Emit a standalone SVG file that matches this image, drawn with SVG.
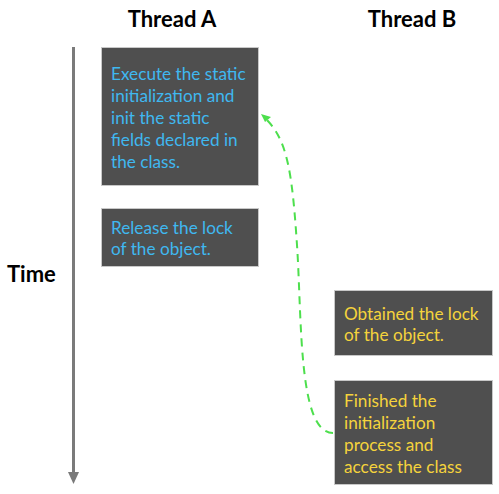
<svg xmlns="http://www.w3.org/2000/svg" width="499" height="494" viewBox="0 0 499 494">
<style>
.box{fill:#4f4f4f;stroke:#c8c8c8;stroke-width:1}
.t{font-family:Lato,"Open Sans",sans-serif;font-size:17.2px}
.a{fill:#3fb8f0}
.b{fill:#f5d33c}
.h{font-family:Lato,"Open Sans",sans-serif;font-size:22px;font-weight:bold;fill:#000}
</style>
<g id="titles">
<text class="h" x="172" y="27" text-anchor="middle">Thread A</text>
<text class="h" x="412" y="27" text-anchor="middle">Thread B</text>
<text class="h" x="7" y="282">Time</text>
</g>
<g id="connectors">
<line x1="73.5" y1="47" x2="73.5" y2="472" stroke="#7a7a7a" stroke-width="3"/>
<path d="M73.5,472 L68,472 L73.5,484 L79,472 Z" fill="#7a7a7a"/>
<path d="M333,433 C298,433 302,320 297,245 C292,170 287,140 266,119" fill="none" stroke="#4ddf4d" stroke-width="2" stroke-dasharray="8,6"/>
<path d="M261,114 L271,117 L265,122 Z" fill="#4ddf4d"/>
</g>
<g id="a1">
<rect class="box" x="101.5" y="47.5" width="157" height="138"/>
<text class="t a"><tspan x="111" y="80">Execute the static</tspan><tspan x="111" y="102">initialization and</tspan><tspan x="111" y="124">init the static</tspan><tspan x="111" y="146">fields declared in</tspan><tspan x="111" y="168">the class.</tspan></text>
</g>
<g id="a2">
<rect class="box" x="101.5" y="208.5" width="157" height="58"/>
<text class="t a"><tspan x="111" y="234">Release the lock</tspan><tspan x="111" y="255">of the object.</tspan></text>
</g>
<g id="b1">
<rect class="box" x="334.5" y="290.5" width="158" height="65"/>
<text class="t b"><tspan x="344" y="320">Obtained the lock</tspan><tspan x="344" y="341">of the object.</tspan></text>
</g>
<g id="b2">
<rect class="box" x="334.5" y="380.5" width="158" height="104"/>
<text class="t b"><tspan x="344" y="407">Finished the</tspan><tspan x="344" y="429">initialization</tspan><tspan x="344" y="451">process and</tspan><tspan x="344" y="473">access the class</tspan></text>
</g>
</svg>
